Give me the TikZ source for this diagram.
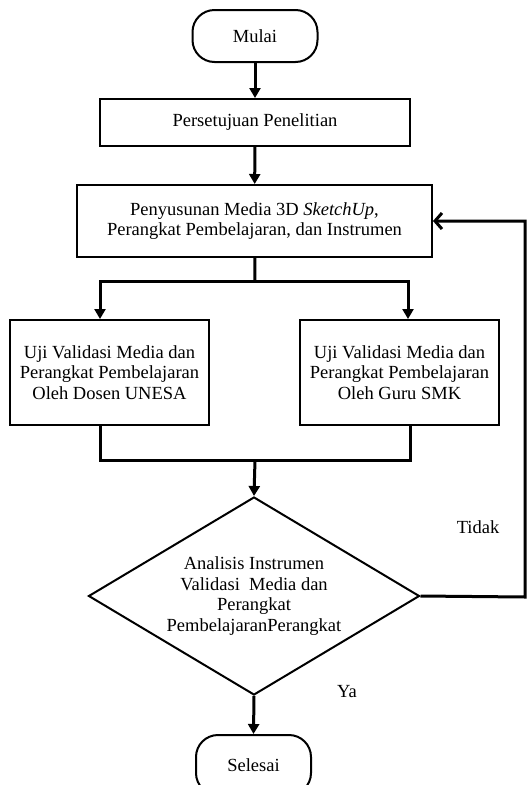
\documentclass[tikz,border=0pt]{standalone}
\usepackage{fontspec}
\setmainfont{Liberation Serif}
\usetikzlibrary{arrows.meta,shapes.geometric}

\begin{document}
\begin{tikzpicture}[x=1pt,y=-1pt]
\tikzset{
  termnode/.style={rectangle,draw,line width=2pt,rounded corners=22pt,minimum width=125pt,minimum height=52pt,font=\fontsize{18.5}{20.5}\selectfont},
  procnode/.style={rectangle,draw,line width=2pt,align=center,inner sep=2pt,font=\fontsize{18.5}{20.5}\selectfont},
  decnode/.style={diamond,draw,line width=2pt,aspect=1.67,minimum width=331pt,minimum height=198pt,inner sep=0pt,align=center,font=\fontsize{18.5}{20.5}\selectfont},
  labelnode/.style={font=\fontsize{18.5}{20.5}\selectfont},
  directed/.style={-{Triangle[length=10pt,width=11pt]},line width=3pt},
  undirected/.style={line width=3pt},
  backdirected/.style={-{Straight Barb[length=7pt,width=16pt,line width=3pt]},line width=3pt}
}
\useasboundingbox (0,0) rectangle (530,785);
\node[termnode] (n_mulai) at (255,36) {Mulai};
\node[procnode,minimum width=310pt,minimum height=47pt] (n_setuju) at (255,122.5) {Persetujuan Penelitian};
\node[procnode,minimum width=355pt,minimum height=72pt] (n_susun) at (254.5,221) {Penyusunan Media 3D \textit{SketchUp},\\Perangkat Pembelajaran, dan Instrumen};
\node[procnode,minimum width=199pt,minimum height=105pt] (n_dosen) at (109.5,372.5) {Uji Validasi Media dan\\Perangkat Pembelajaran\\Oleh Dosen UNESA};
\node[procnode,minimum width=199pt,minimum height=105pt] (n_guru) at (399.5,372.5) {Uji Validasi Media dan\\Perangkat Pembelajaran\\Oleh Guru SMK};
\node[decnode] (n_analisis) at (254,596) {Analisis Instrumen\\Validasi\ \ Media dan\\Perangkat\\PembelajaranPerangkat};
\node[termnode,minimum width=115pt,minimum height=60pt] (n_selesai) at (253.5,765) {Selesai};
\node[labelnode] (l_tidak) at (478,527) {Tidak};
\node[labelnode] (l_ya) at (347,692) {Ya};
\coordinate (c_split) at (255,281);
\coordinate (c_join) at (255,460);
\coordinate (c_back) at (525,597);
\draw[directed] (n_mulai) -- (n_setuju);
\draw[directed] (n_setuju) -- (n_susun);
\draw[undirected] (n_susun) -- (c_split);
\draw[directed] (c_split) -| ([xshift=-9.5pt]n_dosen.north);
\draw[directed] (c_split) -| ([xshift=8.5pt]n_guru.north);
\draw[undirected] ([xshift=-9.5pt]n_dosen.south) |- (c_join) -| ([xshift=10.5pt]n_guru.south);
\draw[directed] (c_join) -- (n_analisis.north);
\draw[directed] (n_analisis.south) -- (n_selesai.north);
\draw[backdirected] (n_analisis.east) -- (c_back) |- (n_susun.east);
\end{tikzpicture}
\end{document}
